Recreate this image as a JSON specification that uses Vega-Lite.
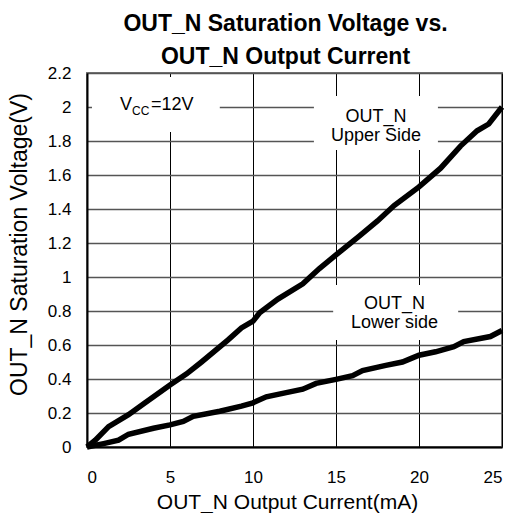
{
  "$schema": "https://vega.github.io/schema/vega-lite/v6.json",
  "width": 415,
  "height": 374,
  "autosize": {"type": "none"},
  "padding": {"left": 87, "top": 73, "right": 12, "bottom": 66},
  "background": "white",
  "config": {
    "font": "Liberation Sans",
    "view": {"stroke": "#777777", "strokeWidth": 2},
    "axis": {
      "labelFont": "Liberation Sans",
      "titleFont": "Liberation Sans",
      "labelColor": "#000000",
      "titleColor": "#000000",
      "titleFontWeight": "normal"
    }
  },
  "title": {
    "text": ["OUT_N Saturation Voltage vs.", "OUT_N Output Current"],
    "fontSize": 23,
    "fontWeight": "bold",
    "lineHeight": 33,
    "anchor": "middle",
    "frame": "group",
    "dx": -9,
    "offset": -5,
    "color": "#000000"
  },
  "datasets": {
    "curves": [
      {"current": 0, "voltage": 0, "series": "Upper Side"},
      {"current": 0.5, "voltage": 0.04, "series": "Upper Side"},
      {"current": 1.3, "voltage": 0.12, "series": "Upper Side"},
      {"current": 2.5, "voltage": 0.19, "series": "Upper Side"},
      {"current": 3.5, "voltage": 0.26, "series": "Upper Side"},
      {"current": 5, "voltage": 0.365, "series": "Upper Side"},
      {"current": 6, "voltage": 0.43, "series": "Upper Side"},
      {"current": 6.9, "voltage": 0.5, "series": "Upper Side"},
      {"current": 8.5, "voltage": 0.63, "series": "Upper Side"},
      {"current": 9.3, "voltage": 0.7, "series": "Upper Side"},
      {"current": 10, "voltage": 0.74, "series": "Upper Side"},
      {"current": 10.4, "voltage": 0.79, "series": "Upper Side"},
      {"current": 11.5, "voltage": 0.87, "series": "Upper Side"},
      {"current": 13, "voltage": 0.96, "series": "Upper Side"},
      {"current": 14, "voltage": 1.05, "series": "Upper Side"},
      {"current": 15, "voltage": 1.13, "series": "Upper Side"},
      {"current": 16.4, "voltage": 1.24, "series": "Upper Side"},
      {"current": 17.5, "voltage": 1.33, "series": "Upper Side"},
      {"current": 18.5, "voltage": 1.42, "series": "Upper Side"},
      {"current": 20, "voltage": 1.53, "series": "Upper Side"},
      {"current": 21.3, "voltage": 1.64, "series": "Upper Side"},
      {"current": 22.5, "voltage": 1.77, "series": "Upper Side"},
      {"current": 23.5, "voltage": 1.86, "series": "Upper Side"},
      {"current": 24.2, "voltage": 1.9, "series": "Upper Side"},
      {"current": 25, "voltage": 2.0, "series": "Upper Side"},
      {"current": 0, "voltage": 0, "series": "Lower side"},
      {"current": 1, "voltage": 0.02, "series": "Lower side"},
      {"current": 1.9, "voltage": 0.04, "series": "Lower side"},
      {"current": 2.5, "voltage": 0.075, "series": "Lower side"},
      {"current": 4, "voltage": 0.11, "series": "Lower side"},
      {"current": 5, "voltage": 0.13, "series": "Lower side"},
      {"current": 5.8, "voltage": 0.15, "series": "Lower side"},
      {"current": 6.4, "voltage": 0.18, "series": "Lower side"},
      {"current": 8, "voltage": 0.21, "series": "Lower side"},
      {"current": 9.3, "voltage": 0.24, "series": "Lower side"},
      {"current": 10, "voltage": 0.26, "series": "Lower side"},
      {"current": 10.8, "voltage": 0.295, "series": "Lower side"},
      {"current": 12, "voltage": 0.32, "series": "Lower side"},
      {"current": 13, "voltage": 0.34, "series": "Lower side"},
      {"current": 13.8, "voltage": 0.374, "series": "Lower side"},
      {"current": 15, "voltage": 0.398, "series": "Lower side"},
      {"current": 16, "voltage": 0.42, "series": "Lower side"},
      {"current": 16.6, "voltage": 0.45, "series": "Lower side"},
      {"current": 18, "voltage": 0.48, "series": "Lower side"},
      {"current": 19, "voltage": 0.5, "series": "Lower side"},
      {"current": 19.5, "voltage": 0.52, "series": "Lower side"},
      {"current": 20, "voltage": 0.54, "series": "Lower side"},
      {"current": 21, "voltage": 0.56, "series": "Lower side"},
      {"current": 22.1, "voltage": 0.59, "series": "Lower side"},
      {"current": 22.7, "voltage": 0.62, "series": "Lower side"},
      {"current": 24.3, "voltage": 0.65, "series": "Lower side"},
      {"current": 25, "voltage": 0.685, "series": "Lower side"}
    ],
    "boxes": [
      {"name": "vcc", "x1": 0.3, "x2": 8.0, "y1": 1.853, "y2": 2.176},
      {"name": "upper", "x1": 13.67, "x2": 21.14, "y1": 1.747, "y2": 2.065},
      {"name": "lower", "x1": 14.83, "x2": 22.36, "y1": 0.629, "y2": 0.953}
    ],
    "vcc": [
      {"x": 1.99, "y": 1.982}
    ],
    "labels": [
      {"x": 17.41, "y": 1.94, "label": ["OUT_N", "Upper Side"]},
      {"x": 18.53, "y": 0.84, "label": ["OUT_N", "Lower side"]}
    ]
  },
  "encoding": {
    "x": {
      "type": "quantitative",
      "scale": {"domain": [0, 25], "nice": false},
      "axis": {
        "title": "OUT_N Output Current(mA)",
        "values": [0, 5, 10, 15, 20, 25],
        "tickCount": 30,
        "grid": true,
        "gridColor": "#000000",
        "gridWidth": 1,
        "gridOpacity": 1,
        "domainColor": "#000000",
        "domainWidth": 2,
        "ticks": false,
        "labelOverlap": false,
        "labelFontSize": 17,
        "labelPadding": 22,
        "titleFontSize": 21,
        "titlePadding": 6,
        "titleX": 200,
        "titleAlign": "center"
      }
    },
    "y": {
      "type": "quantitative",
      "scale": {"domain": [0, 2.2], "nice": false},
      "axis": {
        "title": "OUT_N Saturation Voltage(V)",
        "values": [0, 0.2, 0.4, 0.6, 0.8, 1, 1.2, 1.4, 1.6, 1.8, 2, 2.2],
        "tickCount": 30,
        "format": ".1~f",
        "grid": true,
        "gridColor": "#555555",
        "gridWidth": 1.5,
        "gridOpacity": 1,
        "domainColor": "#000000",
        "domainWidth": 2,
        "ticks": false,
        "labelOverlap": false,
        "labelFontSize": 17,
        "labelPadding": 16,
        "titleFontSize": 23,
        "titlePadding": 16,
        "titleY": 171,
        "titleAlign": "center"
      }
    }
  },
  "layer": [
    {
      "data": {"name": "boxes"},
      "mark": {"type": "rect", "fill": "white", "stroke": null},
      "encoding": {
        "x": {"field": "x1"},
        "x2": {"field": "x2"},
        "y": {"field": "y1"},
        "y2": {"field": "y2"}
      }
    },
    {
      "data": {"name": "curves"},
      "mark": {"type": "line", "color": "#000000", "strokeWidth": 5.5},
      "encoding": {
        "x": {"field": "current"},
        "y": {"field": "voltage"},
        "detail": {"field": "series"}
      }
    },
    {
      "data": {"name": "vcc"},
      "mark": {"type": "text", "text": "V", "fontSize": 18, "align": "left", "baseline": "alphabetic", "color": "#000000"},
      "encoding": {
        "x": {"field": "x"},
        "y": {"field": "y"}
      }
    },
    {
      "data": {"name": "vcc"},
      "mark": {"type": "text", "text": "CC", "fontSize": 12, "align": "left", "baseline": "alphabetic", "dx": 12, "dy": 5, "color": "#000000"},
      "encoding": {
        "x": {"field": "x"},
        "y": {"field": "y"}
      }
    },
    {
      "data": {"name": "vcc"},
      "mark": {"type": "text", "text": "=12V", "fontSize": 18, "align": "left", "baseline": "alphabetic", "dx": 31, "color": "#000000"},
      "encoding": {
        "x": {"field": "x"},
        "y": {"field": "y"}
      }
    },
    {
      "data": {"name": "labels"},
      "mark": {"type": "text", "fontSize": 18, "lineHeight": 19, "align": "center", "baseline": "middle", "color": "#000000"},
      "encoding": {
        "x": {"field": "x"},
        "y": {"field": "y"},
        "text": {"field": "label"}
      }
    }
  ]
}
